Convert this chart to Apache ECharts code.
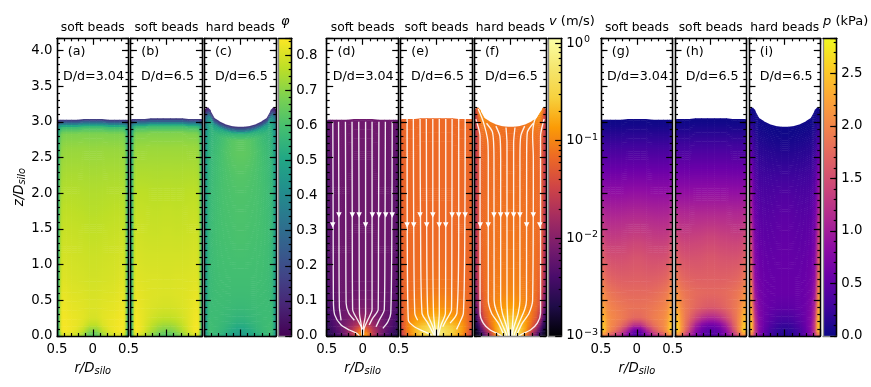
<!DOCTYPE html>
<html>
<head>
<meta charset="utf-8">
<style>
    html, body {margin:0;padding:0;background:#fff}
    #chart {width:871px;height:387px}
</style>
<script src="https://cdn.jsdelivr.net/npm/echarts@6/dist/echarts.min.js"></script>
</head>
<body>
<div id="chart"></div>
<script>
// cell edges, left half of the silo (the right half is mirrored)
var rEdgesHalf = [-0.5, -0.48, -0.45, -0.42, -0.37, -0.3, -0.22, -0.13, -0.05];
var zEdges = [0, 0.03, 0.08, 0.15, 0.25, 0.4, 0.6, 0.8, 1.1, 1.4, 1.7, 2.0, 2.3, 2.6, 2.8, 2.9, 2.95, 3.0];

// free surface height at each r edge
var surfA = [3.02, 3.03, 3.03, 3.03, 3.03, 3.03, 3.03, 3.04, 3.04];
var surfB = [3.03, 3.04, 3.04, 3.04, 3.04, 3.04, 3.05, 3.05, 3.05];
var surfC = [3.17, 3.19, 3.2, 3.165, 3.06, 3.01, 2.97, 2.94, 2.93];

// packing fraction, rows bottom to top, columns wall to centre
var phiA = [
    [.40,.66,.78,.80,.80,.78,.74,.66,.60],
    [.42,.78,.835,.84,.835,.82,.79,.71,.64],
    [.42,.78,.838,.84,.835,.825,.81,.77,.71],
    [.42,.78,.838,.84,.83,.825,.82,.80,.78],
    [.42,.78,.835,.835,.825,.82,.815,.81,.80],
    [.42,.77,.825,.825,.815,.81,.81,.805,.80],
    [.42,.76,.81,.815,.805,.80,.80,.795,.79],
    [.42,.75,.80,.805,.795,.795,.79,.79,.785],
    [.42,.74,.785,.79,.785,.785,.78,.78,.775],
    [.42,.73,.77,.775,.775,.77,.77,.765,.76],
    [.42,.72,.755,.76,.76,.76,.755,.755,.75],
    [.42,.71,.74,.745,.745,.745,.745,.74,.745],
    [.42,.69,.715,.725,.725,.725,.725,.725,.72],
    [.41,.67,.695,.705,.705,.705,.705,.705,.70],
    [.38,.60,.65,.66,.66,.66,.66,.66,.66],
    [.28,.42,.47,.48,.48,.48,.48,.48,.48],
    [.08,.10,.11,.11,.11,.11,.11,.11,.11]
];
var phiB = [
    [.42,.68,.80,.80,.76,.72,.66,.62,.60],
    [.42,.80,.838,.84,.82,.77,.72,.68,.66],
    [.42,.80,.84,.84,.82,.78,.74,.71,.70],
    [.42,.80,.84,.835,.82,.80,.77,.755,.75],
    [.42,.79,.835,.83,.815,.805,.795,.79,.785],
    [.42,.78,.825,.825,.815,.81,.805,.805,.80],
    [.42,.77,.815,.815,.81,.805,.805,.805,.80],
    [.42,.76,.80,.805,.80,.80,.80,.80,.795],
    [.42,.75,.79,.795,.79,.785,.785,.785,.79],
    [.42,.74,.78,.785,.78,.78,.775,.775,.78],
    [.42,.73,.765,.77,.77,.765,.765,.765,.77],
    [.42,.72,.75,.755,.755,.755,.75,.75,.75],
    [.42,.70,.725,.73,.73,.73,.73,.73,.735],
    [.41,.68,.705,.71,.71,.71,.71,.71,.705],
    [.38,.60,.65,.66,.66,.66,.66,.66,.66],
    [.28,.42,.47,.48,.48,.48,.48,.48,.48],
    [.08,.10,.11,.11,.11,.11,.11,.11,.11]
];
var phiC = [
    [.38,.50,.56,.56,.55,.53,.50,.47,.45],
    [.38,.54,.585,.585,.57,.56,.53,.49,.47],
    [.38,.54,.585,.585,.575,.565,.545,.52,.50],
    [.38,.54,.58,.58,.58,.57,.56,.545,.53],
    [.38,.54,.575,.575,.58,.575,.57,.565,.56],
    [.38,.53,.57,.575,.58,.58,.58,.575,.575],
    [.38,.53,.565,.575,.585,.585,.585,.585,.585],
    [.38,.53,.565,.575,.585,.59,.59,.59,.59],
    [.38,.53,.565,.58,.59,.595,.595,.60,.60],
    [.38,.53,.56,.575,.59,.595,.60,.60,.61],
    [.38,.53,.56,.575,.59,.60,.605,.605,.61],
    [.38,.52,.555,.57,.59,.60,.605,.61,.615],
    [.38,.51,.545,.565,.585,.60,.615,.625,.63],
    [.36,.50,.54,.56,.58,.60,.63,.645,.65],
    [.30,.40,.49,.53,.55,.57,.60,.62,.62],
    [.15,.20,.30,.38,.42,.45,.47,.48,.48],
    [.03,.05,.08,.10,.10,.10,.10,.10,.10]
];

// speed in m/s
var velD = [
    [.002,.0022,.0025,.003,.004,.006,.012,.05,.25],
    [.0022,.0025,.003,.0036,.005,.008,.018,.06,.22],
    [.0025,.003,.0035,.0042,.0055,.008,.014,.03,.06],
    [.003,.0035,.004,.0048,.006,.0075,.01,.014,.018],
    [.0035,.004,.0045,.0052,.006,.0068,.0078,.009,.01],
    [.004,.0045,.005,.0055,.0062,.0066,.007,.0072,.0075],
    [.0042,.0048,.0055,.006,.0064,.0066,.0068,.0068,.007],
    [.0045,.005,.0058,.0062,.0066,.0068,.0068,.0068,.0068],
    [.0045,.005,.0058,.0062,.0066,.0068,.0068,.0068,.0068],
    [.0045,.005,.0058,.0062,.0066,.0068,.0068,.0068,.0068],
    [.0045,.005,.0058,.0062,.0066,.0068,.0068,.0068,.0068],
    [.0045,.005,.0058,.0062,.0066,.0068,.0068,.0068,.0068],
    [.0048,.0052,.006,.0064,.0068,.007,.007,.007,.007],
    [.005,.0055,.006,.0065,.007,.0072,.0072,.0072,.0072],
    [.005,.0055,.0062,.0066,.007,.0072,.0072,.0072,.0072],
    [.005,.0055,.0062,.0066,.007,.0072,.0072,.0072,.0072],
    [.005,.0055,.0062,.0066,.007,.0072,.0072,.0072,.0072]
];
var velE = [
    [.02,.03,.05,.07,.12,.2,.3,.4,.9],
    [.03,.045,.06,.09,.15,.25,.35,.5,.9],
    [.035,.05,.07,.10,.16,.24,.3,.4,.6],
    [.04,.055,.07,.09,.13,.16,.18,.22,.28],
    [.045,.055,.07,.08,.1,.11,.12,.14,.16],
    [.05,.06,.068,.072,.078,.082,.088,.092,.098],
    [.05,.058,.065,.07,.072,.076,.078,.082,.082],
    [.052,.06,.065,.067,.069,.072,.072,.074,.074],
    [.054,.06,.065,.067,.068,.068,.068,.068,.068],
    [.054,.06,.065,.067,.068,.068,.068,.068,.068],
    [.054,.06,.065,.067,.068,.068,.068,.068,.068],
    [.054,.06,.065,.067,.068,.068,.068,.068,.068],
    [.054,.06,.065,.067,.068,.068,.068,.068,.068],
    [.056,.062,.065,.067,.068,.068,.068,.068,.068],
    [.056,.062,.065,.067,.068,.068,.068,.068,.068],
    [.056,.062,.065,.067,.068,.068,.068,.068,.068],
    [.056,.062,.065,.067,.068,.068,.068,.068,.068]
];
var velF = [
    [.0012,.0013,.0016,.0025,.006,.03,.2,.5,.9],
    [.0013,.0015,.002,.004,.012,.05,.22,.45,.8],
    [.0016,.002,.003,.008,.025,.08,.22,.35,.5],
    [.002,.003,.006,.02,.05,.1,.18,.25,.32],
    [.0035,.006,.016,.04,.07,.1,.14,.17,.2],
    [.006,.012,.03,.055,.075,.09,.1,.11,.12],
    [.008,.018,.04,.06,.075,.085,.09,.095,.1],
    [.01,.022,.045,.065,.075,.08,.085,.09,.09],
    [.012,.025,.05,.068,.075,.078,.08,.082,.085],
    [.014,.03,.055,.068,.075,.076,.078,.08,.08],
    [.015,.03,.055,.068,.072,.075,.075,.075,.078],
    [.016,.032,.055,.065,.07,.072,.072,.075,.075],
    [.018,.035,.055,.065,.07,.072,.072,.072,.072],
    [.018,.035,.06,.07,.072,.072,.072,.07,.07],
    [.02,.038,.08,.09,.085,.08,.075,.072,.072],
    [.022,.042,.1,.11,.09,.08,.075,.072,.072],
    [.028,.06,.13,.12,.1,.09,.08,.075,.075]
];

// pressure in kPa
var presG = [
    [1.7,2.0,1.9,1.6,1.35,1.2,.95,.55,.3],
    [2.4,2.55,2.35,2.05,1.85,1.6,1.15,.6,.32],
    [2.45,2.55,2.35,2.1,1.95,1.8,1.5,1.0,.6],
    [2.35,2.45,2.3,2.1,2.0,1.95,1.85,1.7,1.6],
    [2.25,2.35,2.2,2.05,2.0,1.95,1.9,1.85,1.85],
    [2.1,2.15,2.05,1.95,1.9,1.85,1.8,1.8,1.8],
    [1.95,1.95,1.85,1.8,1.75,1.72,1.7,1.7,1.7],
    [1.8,1.75,1.68,1.62,1.6,1.58,1.58,1.6,1.62],
    [1.55,1.5,1.42,1.38,1.38,1.4,1.4,1.42,1.5],
    [1.3,1.25,1.2,1.2,1.18,1.18,1.2,1.2,1.2],
    [1.05,1.0,.98,.98,.98,.98,.98,1.0,1.02],
    [.74,.72,.72,.72,.72,.72,.72,.72,.72],
    [.45,.43,.43,.42,.42,.42,.42,.42,.42],
    [.22,.2,.2,.2,.2,.2,.2,.2,.2],
    [.08,.08,.08,.08,.08,.08,.08,.08,.08],
    [.03,.03,.03,.03,.03,.03,.03,.03,.03],
    [.01,.01,.01,.01,.01,.01,.01,.01,.01]
];
var presH = [
    [1.7,2.05,1.9,1.6,1.2,.85,.6,.42,.38],
    [2.5,2.6,2.35,2.0,1.6,1.05,.65,.45,.4],
    [2.5,2.6,2.35,2.05,1.7,1.15,.72,.5,.45],
    [2.4,2.5,2.3,2.05,1.8,1.45,1.05,.8,.75],
    [2.3,2.35,2.2,2.0,1.85,1.75,1.6,1.5,1.45],
    [2.15,2.15,2.05,1.95,1.88,1.82,1.78,1.75,1.75],
    [2.0,1.95,1.88,1.82,1.78,1.75,1.72,1.72,1.72],
    [1.82,1.78,1.7,1.65,1.62,1.6,1.6,1.6,1.62],
    [1.58,1.52,1.45,1.42,1.42,1.45,1.45,1.48,1.55],
    [1.32,1.28,1.25,1.22,1.22,1.22,1.22,1.22,1.22],
    [1.05,1.02,1.0,1.0,1.0,1.0,1.0,1.0,1.02],
    [.75,.72,.72,.72,.72,.72,.72,.72,.72],
    [.45,.43,.43,.43,.43,.43,.43,.43,.43],
    [.22,.2,.2,.2,.2,.2,.2,.2,.2],
    [.08,.08,.08,.08,.08,.08,.08,.08,.08],
    [.03,.03,.03,.03,.03,.03,.03,.03,.03],
    [.01,.01,.01,.01,.01,.01,.01,.01,.01]
];
var presI = [
    [1.6,1.9,1.4,.9,.6,.4,.25,.15,.1],
    [2.3,2.5,1.7,1.0,.65,.42,.26,.18,.12],
    [2.5,2.6,1.8,1.0,.68,.46,.3,.2,.16],
    [2.5,2.5,1.7,.95,.68,.52,.38,.28,.25],
    [2.45,2.35,1.5,.88,.68,.56,.48,.42,.4],
    [2.3,2.1,1.25,.78,.62,.56,.54,.54,.54],
    [2.2,1.9,1.05,.7,.6,.56,.55,.55,.55],
    [2.0,1.6,.9,.65,.56,.54,.53,.53,.55],
    [1.7,1.35,.8,.58,.52,.5,.5,.52,.54],
    [1.45,1.1,.7,.52,.46,.45,.46,.48,.5],
    [1.2,.9,.58,.44,.4,.4,.42,.44,.47],
    [.9,.68,.45,.34,.3,.3,.32,.33,.35],
    [.55,.42,.28,.2,.2,.2,.2,.2,.2],
    [.25,.2,.12,.08,.08,.08,.08,.08,.08],
    [.1,.08,.05,.03,.03,.03,.03,.03,.03],
    [.04,.03,.02,.01,.01,.01,.01,.01,.01],
    [.01,.01,.01,.01,.01,.01,.01,.01,.01]
];

// streamlines as [r, z] points, top to bottom
var streamD = [
    [[-.415,3.0],[-.41,1.5],[-.407,.5],[-.39,.3],[-.3,.154],[-.185,.084],[-.083,.037],[-.046,0]],
    [[-.335,3.0],[-.33,1.5],[-.324,.4],[-.30,.22]],
    [[-.24,3.0],[-.235,1.5],[-.23,.46],[-.194,.32],[-.116,.22]],
    [[-.148,3.0],[-.145,1.5],[-.14,.37],[-.07,.224],[-.01,.107],[-.005,.03]],
    [[-.055,3.0],[-.05,1.5],[-.045,.32],[-.02,.154],[-.01,0]],
    [[.04,3.0],[.04,1.5],[.04,.32],[.01,.13],[0,.01]],
    [[.13,3.0],[.13,1.5],[.13,.37],[.07,.224],[.02,.107],[.01,.01]],
    [[.225,3.0],[.22,1.5],[.215,.37],[.14,.25],[.09,.154]],
    [[.315,3.0],[.31,1.5],[.30,.37],[.23,.224],[.185,.13]],
    [[.41,3.0],[.405,1.5],[.39,.32],[.35,.2],[.28,.107]]
];
var streamE = [
    [[-.407,3.04],[-.405,1.5],[-.39,.22],[-.305,.13],[-.167,.06],[-.06,.01]],
    [[-.32,3.04],[-.315,1.5],[-.30,.32],[-.26,.22]],
    [[-.227,3.04],[-.22,1.5],[-.20,.32],[-.12,.18],[-.025,0]],
    [[-.14,3.04],[-.135,1.5],[-.12,.32],[-.05,.13],[-.014,0]],
    [[-.05,3.04],[-.05,1.5],[-.04,.32],[-.005,0]],
    [[.04,3.04],[.04,1.5],[.04,.32],[.012,0]],
    [[.13,3.04],[.13,1.5],[.125,.32],[.065,.154],[.023,0]],
    [[.218,3.04],[.215,1.5],[.21,.37],[.135,.22],[.088,.13]],
    [[.31,3.04],[.31,1.5],[.285,.32],[.19,.18]],
    [[.4,3.04],[.395,1.5],[.375,.32],[.32,.18],[.28,.093]]
];
var streamF = [
    [[-.48,3.04],[-.42,2.8],[-.42,1.5],[-.42,.32],[-.375,.18],[-.28,.084],[-.167,.03],[-.12,0]],
    [[-.445,3.18],[-.375,3.0],[-.315,2.75],[-.306,2.5],[-.306,.5],[-.26,.32],[-.167,.18],[-.1,.04],[-.08,0]],
    [[-.33,2.98],[-.246,2.85],[-.227,2.5],[-.225,.5],[-.2,.37],[-.12,.18],[-.06,.04],[-.05,0]],
    [[-.2,2.94],[-.145,2.8],[-.134,2.5],[-.134,.5],[-.11,.32],[-.05,.13],[-.02,0]],
    [[-.06,2.92],[-.046,2.7],[-.046,.5],[-.03,.15],[-.012,0]],
    [[.065,2.92],[.046,2.7],[.046,.5],[.03,.15],[.012,0]],
    [[.2,2.94],[.145,2.8],[.134,2.5],[.134,.5],[.11,.32],[.05,.13],[.02,0]],
    [[.32,2.98],[.236,2.85],[.227,2.5],[.225,.5],[.2,.37],[.12,.18],[.06,.04],[.05,0]],
    [[.435,3.18],[.34,3.03],[.31,2.8],[.32,2.5],[.31,.5],[.26,.32],[.167,.18],[.1,.04],[.08,0]],
    [[.47,3.04],[.42,2.8],[.42,1.5],[.42,.32],[.375,.18],[.28,.084],[.167,.03],[.12,0]]
];

// arrow heads on the streamlines: [r, z]
var arrowsD = [[-.33,1.695],[-.144,1.695],[-.05,1.695],[.134,1.695],[.227,1.695],[.32,1.695],[.41,1.695],[-.417,1.555],[.04,1.555]];
var arrowsE = [[-.315,1.555],[-.227,1.695],[-.135,1.555],[-.05,1.695],[.04,1.555],[.13,1.555],[.218,1.695],[.31,1.695],[.4,1.695],[-.407,1.555]];
var arrowsF = [[-.227,1.695],[-.134,1.695],[-.046,1.695],[.046,1.695],[.134,1.695],[.32,1.695],[-.417,1.555],[-.306,1.555],[.227,1.555],[.41,1.555]];

var headers = ['soft beads', 'soft beads', 'hard beads'];
var ratios = ['D/d=3.04', 'D/d=6.5', 'D/d=6.5'];
var xTickLabels = {'-0.5': '0.5', '0': '0', '0.5': '0.5'};
var vMajorTicks = [.001, .01, .1, 1];
var vMinorTicks = [.002,.003,.004,.005,.006,.007,.008,.009,.02,.03,.04,.05,.06,.07,.08,.09,.2,.3,.4,.5,.6,.7,.8,.9];

// colour maps
var viridis = ['#440154','#482475','#414487','#355f8d','#2a788e','#21918c','#22a884','#44bf70','#7ad151','#bddf26','#fde725'];
var inferno = ['#000004','#1f0c48','#4a0c6b','#781c6d','#a52c60','#cf4446','#ed6925','#fb9b06','#f7d13d','#f5e66e','#fcffa4'];
var plasma = ['#0d0887','#41049d','#6a00a8','#8f0da4','#b12a90','#cc4778','#e16462','#f2844b','#fca636','#fcce25','#f0f921'];

var font = 'DejaVu Sans';
var phiMax = 0.848, vMax = 1.12, pMax = 2.835;
var zMax = 4.17;

function hexToRgb(hex) {
    return [parseInt(hex.substr(1, 2), 16), parseInt(hex.substr(3, 2), 16), parseInt(hex.substr(5, 2), 16)];
}
function pickColor(stops, t) {
    t = Math.max(0, Math.min(1, t)) * (stops.length - 1);
    var i = Math.min(Math.floor(t), stops.length - 2), f = t - i;
    var a = hexToRgb(stops[i]), b = hexToRgb(stops[i + 1]);
    return 'rgb(' + Math.round(a[0] + (b[0] - a[0]) * f) + ',' + Math.round(a[1] + (b[1] - a[1]) * f) + ',' + Math.round(a[2] + (b[2] - a[2]) * f) + ')';
}
function mirror(row) {
    return row.concat(row.slice(0, -1).reverse());
}
function lerp(a, b, f) {
    return a + (b - a) * f;
}
var rEdges = rEdgesHalf.concat(rEdgesHalf.slice().reverse().map(function (r) { return -r; }));

// one data item per cell: r0, r1, z corners, the shade at the four corners, top row flag
function makeCells(rows, surfHalf, toT) {
    var surf = surfHalf.concat(surfHalf.slice().reverse());
    var grid = rows.map(function (row) { return mirror(row).map(toT); });
    function corner(i, j) {
        var sum = 0, n = 0;
        [j - 1, j].forEach(function (b) {
            [i - 1, i].forEach(function (a) {
                if (grid[b] && grid[b][a] !== undefined) { sum += grid[b][a]; n++; }
            });
        });
        return sum / n;
    }
    var cells = [];
    grid.forEach(function (row, j) {
        row.forEach(function (val, i) {
            cells.push([
                rEdges[i], rEdges[i + 1],
                zEdges[j] * surf[i] / 3, zEdges[j] * surf[i + 1] / 3,
                zEdges[j + 1] * surf[i] / 3, zEdges[j + 1] * surf[i + 1] / 3,
                corner(i, j), corner(i + 1, j), corner(i, j + 1), corner(i + 1, j + 1),
                j === grid.length - 1 ? 1 : 0
            ]);
        });
    });
    return cells;
}
// each cell is painted in thin bands so the shade runs on into its neighbours.
// bands overlap the next one a little, later ones paint over, so no seams show
function cellRenderer(stops) {
    return function (params, api) {
        var r0 = api.value(0), r1 = api.value(1), isTop = api.value(10) === 1;
        var lb = api.coord([r0, api.value(2)]), rb = api.coord([r1, api.value(3)]);
        var lt = api.coord([r0, api.value(4)]), rt = api.coord([r1, api.value(5)]);
        var n = Math.max(1, Math.ceil((lb[1] - lt[1]) / 2));
        var children = [];
        for (var k = 0; k < n; k++) {
            var f0 = k / n, f1 = (k + 1) / n, fm = (f0 + f1) / 2;
            var up = (isTop && k === n - 1) ? 0 : 0.6;
            var fill = new echarts.graphic.LinearGradient(0, 0, 1, 0, [
                {offset: 0, color: pickColor(stops, lerp(api.value(6), api.value(8), fm))},
                {offset: 1, color: pickColor(stops, lerp(api.value(7), api.value(9), fm))}
            ]);
            children.push({
                type: 'polygon',
                shape: {points: [
                    [lb[0], lerp(lb[1], lt[1], f0)], [rb[0] + 0.6, lerp(rb[1], rt[1], f0)],
                    [rb[0] + 0.6, lerp(rb[1], rt[1], f1) - up], [lb[0], lerp(lb[1], lt[1], f1) - up]
                ]},
                style: {fill: fill}
            });
        }
        return {type: 'group', children: children};
    };
}
function barRenderer(stops) {
    return function (params, api) {
        var a = api.coord([0, api.value(0)]), b = api.coord([1, api.value(1)]);
        return {
            type: 'rect',
            shape: {x: a[0], y: b[1], width: b[0] - a[0], height: a[1] - b[1]},
            style: {fill: new echarts.graphic.LinearGradient(0, 1, 0, 0, stops.map(function (c, i) {
                return {offset: i / (stops.length - 1), color: c};
            }))}
        };
    };
}

function axisBase(extra) {
    return Object.assign({
        type: 'value', z: 10,
        axisLine: {onZero: false, lineStyle: {color: '#000', width: 1.3}},
        axisTick: {show: false},
        axisLabel: {show: false},
        splitLine: {show: false}
    }, extra);
}
function ticks(len) {
    return {show: true, inside: true, length: len, lineStyle: {color: '#000', width: 1.2}};
}
var labelStyle = {fontFamily: font, fontSize: 13.3, color: '#000'};
var nameRich = {
    i: {fontFamily: font, fontSize: 13.3, fontStyle: 'italic', color: '#000'},
    s: {fontFamily: font, fontSize: 9.8, fontStyle: 'italic', color: '#000', padding: [5, 0, 0, 0]}
};
var textPlain = {fontFamily: font, fontSize: 12.7, fontWeight: 'normal', color: '#000'};

var grids = [], xAxes = [], yAxes = [], series = [], titles = [];

function addPanel(left, width, idx, cells, stops, labelled, tag, bottomColor) {
    var g = grids.length;
    grids.push({left: left, top: 38.3, width: width, height: 297.7, show: false});
    var xi = xAxes.length, yi = yAxes.length;
    var xCommon = {gridIndex: g, min: -0.5, max: 0.5, interval: 0.5, axisTick: ticks(6.5),
        minorTick: {show: true, splitNumber: 5, length: 3, lineStyle: {color: '#000', width: 1.2}}};
    xAxes.push(axisBase(Object.assign({}, xCommon, {position: 'bottom',
        axisLine: {onZero: false, lineStyle: {color: bottomColor || '#000', width: 1.3}},
        name: labelled ? '{i|r/D}{s|silo}' : '', nameLocation: 'middle', nameGap: 25,
        nameTextStyle: {rich: nameRich},
        axisLabel: labelled ? Object.assign({show: true, margin: 7, formatter: function (v) { return xTickLabels[String(v)]; }}, labelStyle) : {show: false}})));
    xAxes.push(axisBase(Object.assign({}, xCommon, {position: 'top',
        name: headers[idx], nameLocation: 'middle', nameGap: 4,
        nameTextStyle: {fontFamily: font, fontSize: 12.3, color: '#000', verticalAlign: 'bottom'}})));
    var showY = labelled === 'y';
    ['left', 'right'].forEach(function (pos) {
        var isMain = pos === 'left';
        yAxes.push(axisBase({gridIndex: g, position: pos, min: 0, max: zMax, interval: 0.5, axisTick: ticks(6.5),
            name: isMain && showY ? '{i|z/D}{s|silo}' : '', nameLocation: 'middle', nameGap: 30,
            nameTextStyle: {rich: nameRich},
            axisLabel: isMain && showY ? Object.assign({show: true, margin: 4.5, formatter: function (v) {
                return Math.abs(v * 2 - Math.round(v * 2)) < 1e-6 ? v.toFixed(1) : '';
            }}, labelStyle) : {show: false}}));
        yAxes.push(axisBase({gridIndex: g, position: pos, min: 0, max: zMax, interval: 0.1, axisTick: ticks(3)}));
    });
    series.push({type: 'custom', xAxisIndex: xi, yAxisIndex: yi, data: cells, z: 1, silent: true, clip: true,
        encode: {x: 0, y: 2}, renderItem: cellRenderer(stops)});
    titles.push({text: tag, left: left + 10.8, top: 45, padding: 0, textStyle: textPlain});
    titles.push({text: ratios[idx], left: left + (idx === 0 ? 6 : 10.7), top: 70, padding: 0, textStyle: textPlain});
    return {x: xi, y: yi};
}
function addStreams(ids, lines, arrows) {
    lines.forEach(function (line) {
        series.push({type: 'line', xAxisIndex: ids.x, yAxisIndex: ids.y, data: line, smooth: 0.25, showSymbol: false, z: 2, silent: true,
            lineStyle: {color: '#fff', width: 1.35, opacity: 0.9}});
    });
    series.push({type: 'scatter', xAxisIndex: ids.x, yAxisIndex: ids.y, data: arrows, symbol: 'triangle', symbolRotate: 180, symbolSize: 5.5, z: 3, silent: true,
        itemStyle: {color: '#fff', opacity: 1}});
}
function addColorbar(left, width, stops, yType, yMin, yMax, major, minor, label) {
    var g = grids.length;
    grids.push({left: left, top: 38.3, width: width, height: 297.7, show: false});
    var xi = xAxes.length, yi = yAxes.length;
    xAxes.push(axisBase({gridIndex: g, position: 'bottom', min: 0, max: 1, axisLine: {onZero: false, lineStyle: {color: '#888', width: 1.3}}}));
    xAxes.push(axisBase({gridIndex: g, position: 'top', min: 0, max: 1}));
    var yCommon = {gridIndex: g, type: yType, min: yMin, max: yMax};
    yAxes.push(axisBase(Object.assign({}, yCommon, {position: 'left', axisLine: {onZero: false, lineStyle: {color: '#888', width: 1.3}}})));
    yAxes.push(axisBase(Object.assign({}, yCommon, major, {position: 'right', axisLabel: label})));
    yAxes.push(axisBase(Object.assign({}, yCommon, minor, {position: 'right'})));
    series.push({type: 'custom', xAxisIndex: xi, yAxisIndex: yi, data: [[yMin, yMax]], z: 1, silent: true, clip: false,
        renderItem: barRenderer(stops)});
}

var phiT = function (v) { return v / phiMax; };
var velT = function (v) { return (Math.log10(v) + 3) / (Math.log10(vMax) + 3); };
var presT = function (v) { return v / pMax; };

addPanel(57, 71.5, 0, makeCells(phiA, surfA, phiT), viridis, 'y', '(a)');
addPanel(130.4, 72, 1, makeCells(phiB, surfB, phiT), viridis, false, '(b)');
addPanel(204.3, 72, 2, makeCells(phiC, surfC, phiT), viridis, false, '(c)');
addColorbar(278.7, 13, viridis, 'value', 0, phiMax,
    {interval: 0.1, axisTick: ticks(6.5)}, {interval: 0.02, axisTick: ticks(3)},
    Object.assign({show: true, margin: 4.5, formatter: function (v) {
        return Math.abs(v * 10 - Math.round(v * 10)) < 1e-6 ? v.toFixed(1) : '';
    }}, labelStyle));

var idsD = addPanel(326.7, 72, 0, makeCells(velD, surfA, velT), inferno, 'x', '(d)');
addStreams(idsD, streamD, arrowsD);
var idsE = addPanel(400.4, 72, 1, makeCells(velE, surfB, velT), inferno, false, '(e)');
addStreams(idsE, streamE, arrowsE);
var idsF = addPanel(474.3, 72, 2, makeCells(velF, surfC, velT), inferno, false, '(f)', '#888');
addStreams(idsF, streamF, arrowsF);
addColorbar(548.3, 13.4, inferno, 'log', 0.001, vMax,
    {axisTick: Object.assign(ticks(6.5), {customValues: vMajorTicks})},
    {axisTick: Object.assign(ticks(3), {customValues: vMinorTicks})},
    {show: true, margin: 4.5, customValues: vMajorTicks, color: '#000', fontFamily: font,
        formatter: function (v) {
            var e = Math.round(Math.log10(v));
            return '{b|10}{e|' + (e < 0 ? '\u2212' + (-e) : e) + '}';
        },
        rich: {
            b: {fontFamily: font, fontSize: 13.3, color: '#000'},
            e: {fontFamily: font, fontSize: 9.5, color: '#000', padding: [0, 0, 7, 1]}
        }});

addPanel(601, 71.7, 0, makeCells(presG, surfA, presT), plasma, 'x', '(g)');
addPanel(675, 71.3, 1, makeCells(presH, surfB, presT), plasma, false, '(h)');
addPanel(749, 71.3, 2, makeCells(presI, surfC, presT), plasma, false, '(i)');
addColorbar(823, 13.7, plasma, 'value', 0, pMax,
    {interval: 0.5, axisTick: ticks(6.5)}, {interval: 0.1, axisTick: ticks(3)},
    Object.assign({show: true, margin: 4.5, formatter: function (v) {
        return Math.abs(v * 2 - Math.round(v * 2)) < 1e-6 ? v.toFixed(1) : '';
    }}, labelStyle));

// colour bar titles
var barRich = {
    i: {fontFamily: font, fontSize: 13, fontStyle: 'italic', fontWeight: 'normal', color: '#000'},
    n: {fontFamily: font, fontSize: 13, fontWeight: 'normal', color: '#000'}
};
titles.push({text: '{i|\u03c6}', left: 281, top: 15, padding: 0, textStyle: {rich: barRich}});
titles.push({text: '{i|v}{n| (m/s)}', left: 549, top: 15, padding: 0, textStyle: {rich: barRich}});
titles.push({text: '{i|p}{n| (kPa)}', left: 823, top: 15, padding: 0, textStyle: {rich: barRich}});

var chart = echarts.init(document.getElementById('chart'));
chart.setOption({
    animation: false,
    backgroundColor: '#fff',
    title: titles,
    grid: grids,
    xAxis: xAxes,
    yAxis: yAxes,
    series: series
});
</script>
</body>
</html>
